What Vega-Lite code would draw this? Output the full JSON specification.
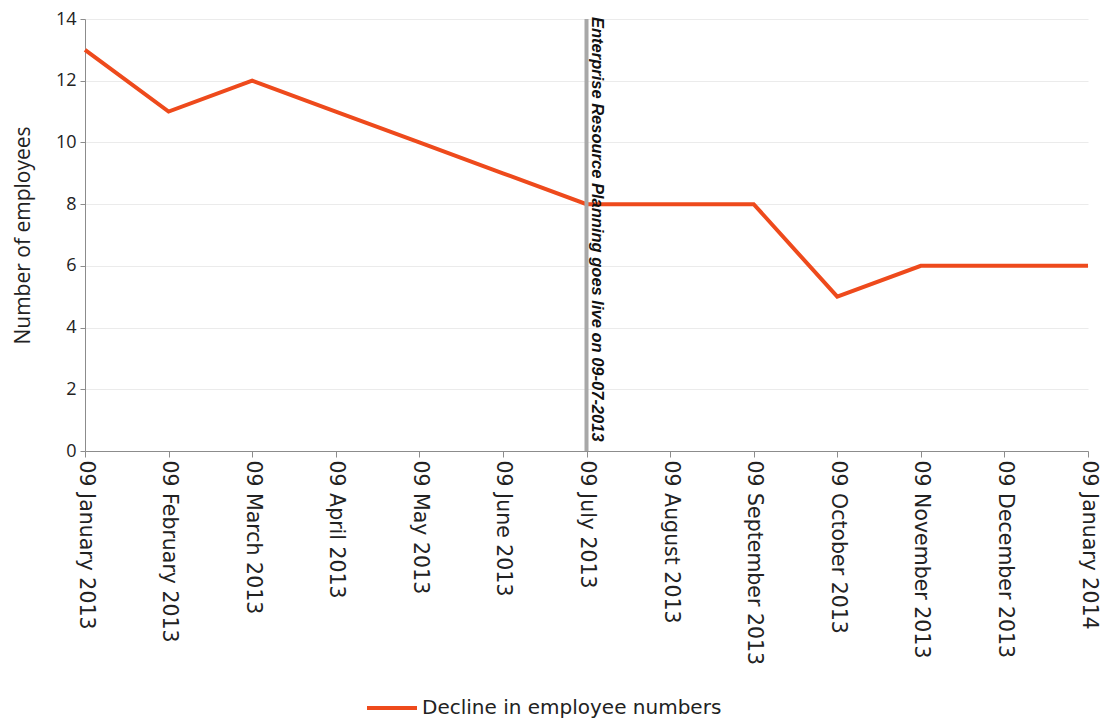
{
  "$schema": "https://vega.github.io/schema/vega-lite/v6.json",
  "autosize": "none",
  "width": 1003,
  "height": 432,
  "padding": {"left": 85, "top": 19, "right": 17, "bottom": 271},
  "background": "white",
  "config": {
    "view": {"stroke": null},
    "font": "Liberation Sans",
    "axis": {"domainColor": "#8C8C8C", "tickColor": "#8C8C8C", "labelColor": "#222222", "titleColor": "#222222", "gridColor": "#EBEBEB"}
  },
  "datasets": {
    "emp": [
      {"month": "09 January 2013", "employees": 13, "series": "Decline in employee numbers"},
      {"month": "09 February 2013", "employees": 11, "series": "Decline in employee numbers"},
      {"month": "09 March 2013", "employees": 12, "series": "Decline in employee numbers"},
      {"month": "09 April 2013", "employees": 11, "series": "Decline in employee numbers"},
      {"month": "09 May 2013", "employees": 10, "series": "Decline in employee numbers"},
      {"month": "09 June 2013", "employees": 9, "series": "Decline in employee numbers"},
      {"month": "09 July 2013", "employees": 8, "series": "Decline in employee numbers"},
      {"month": "09 August 2013", "employees": 8, "series": "Decline in employee numbers"},
      {"month": "09 September 2013", "employees": 8, "series": "Decline in employee numbers"},
      {"month": "09 October 2013", "employees": 5, "series": "Decline in employee numbers"},
      {"month": "09 November 2013", "employees": 6, "series": "Decline in employee numbers"},
      {"month": "09 December 2013", "employees": 6, "series": "Decline in employee numbers"},
      {"month": "09 January 2014", "employees": 6, "series": "Decline in employee numbers"}
    ],
    "event": [
      {"month": "09 July 2013", "top": 14, "label": "Enterprise Resource Planning goes live on 09-07-2013"}
    ]
  },
  "layer": [
    {
      "data": {"name": "emp"},
      "mark": {"type": "line", "strokeWidth": 4, "strokeJoin": "miter"},
      "encoding": {
        "x": {
          "field": "month", "type": "nominal", "sort": null,
          "scale": {"type": "point", "padding": 0},
          "axis": {"title": null, "labelAngle": 90, "labelAlign": "left", "labelBaseline": "middle", "labelFontSize": 20.5, "labelPadding": 3, "tickSize": 6, "grid": false, "labelFont": "DejaVu Sans", "labelLimit": 300}
        },
        "y": {
          "field": "employees", "type": "quantitative",
          "scale": {"domain": [0, 14], "nice": false},
          "axis": {"title": "Number of employees", "titleFont": "Open Sans", "titleFontWeight": "normal", "titleFontSize": 21, "titlePadding": 22, "labelFont": "Open Sans", "labelFontSize": 18, "labelPadding": 4, "tickSize": 5, "values": [0, 2, 4, 6, 8, 10, 12, 14], "grid": true}
        },
        "color": {
          "field": "series", "type": "nominal",
          "scale": {"range": ["#EE4A1C"]},
          "legend": {"title": null, "orient": "none", "legendX": 280, "legendY": 662, "symbolType": "stroke", "symbolSize": 2500, "symbolStrokeWidth": 4, "labelFontSize": 20, "labelFont": "DejaVu Sans", "labelColor": "#222222", "labelOffset": 3, "labelLimit": 500, "padding": 0}
        }
      }
    },
    {
      "data": {"name": "event"},
      "mark": {"type": "rule", "color": "#A8A8A8", "strokeWidth": 4},
      "encoding": {
        "x": {"field": "month", "type": "nominal", "sort": null}
      }
    },
    {
      "data": {"name": "event"},
      "mark": {"type": "text", "angle": 90, "align": "left", "baseline": "alphabetic", "fontSize": 16.5, "fontWeight": "bold", "fontStyle": "italic", "font": "Liberation Sans", "color": "#111111", "dx": -2, "dy": -5},
      "encoding": {
        "x": {"field": "month", "type": "nominal", "sort": null},
        "y": {"field": "top", "type": "quantitative"},
        "text": {"field": "label"}
      }
    }
  ]
}
